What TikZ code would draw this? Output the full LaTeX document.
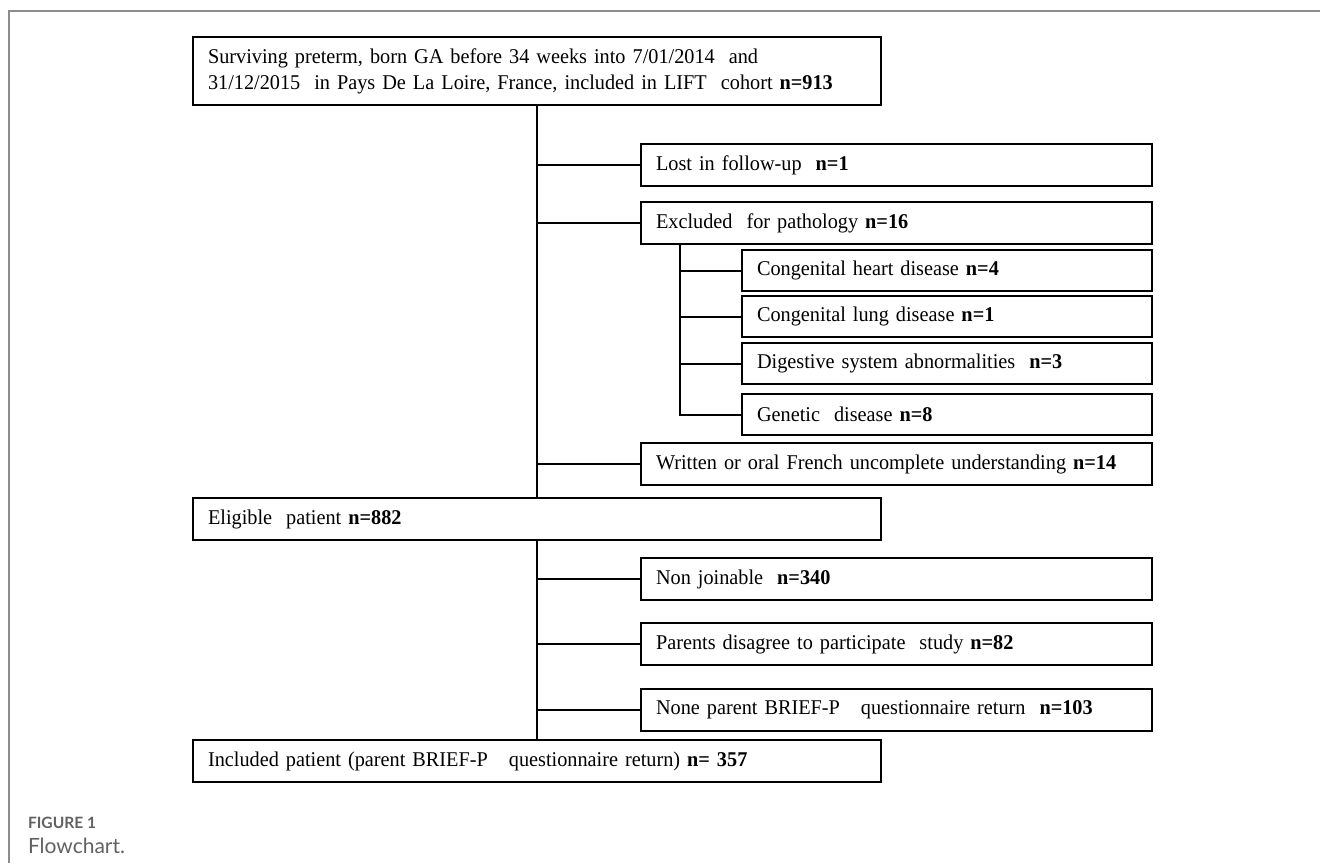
\documentclass[tikz,border=0pt]{standalone}
\usepackage{fontspec}
\setmainfont{Liberation Serif}[FakeStretch=0.965]
\newfontfamily\capfont{Lato}
\usetikzlibrary{positioning}
\definecolor{framegray}{rgb}{0.55,0.55,0.55}
\definecolor{capgray}{rgb}{0.38,0.38,0.38}

\begin{document}
\begin{tikzpicture}[x=0.5pt, y=-0.5pt, line width=1pt,
    box/.style={draw, anchor=north west, inner xsep=7.5pt, inner ysep=0pt,
                minimum height=21pt, align=left,
                font=\fontsize{10.5}{13}\selectfont},
    wide/.style={box, text width=329pt},
    side/.style={box, text width=240.5pt},
    subbox/.style={box, text width=190pt, minimum height=20.5pt},
    link/.style={draw, line width=1pt}]

% --- page size and figure frame -----------------------------------
\useasboundingbox (0,0) rectangle (1320,863);
\draw[framegray, line width=0.6pt] (9,863) -- (9,11) -- (1320,11);

% === main column ==================================================
\node[wide, minimum height=34pt] (cohort) at (192,36)
  {Surviving preterm, born GA before 34 weeks into 7/01/2014\ \ and\\
   31/12/2015\ \ in Pays De La Loire, France, included in LIFT\ \ cohort \textbf{n=913}};
\node[wide] (elig) at (192,497) {Eligible\ \ patient \textbf{n=882}};
\node[wide] (incl) at (192,739)
  {Included patient (parent BRIEF-P\ \ \ questionnaire return) \textbf{n= 357}};

% === exclusions before eligibility ================================
\node[side] (lost)    at (640,143) {Lost in follow-up\ \ \textbf{n=1}};
\node[side] (excl)    at (640,201) {Excluded\ \ for pathology \textbf{n=16}};
\node[subbox] (heart) at (741,249) {Congenital heart disease \textbf{n=4}};
\node[subbox] (lung)  at (741,295) {Congenital lung disease \textbf{n=1}};
\node[subbox] (dig)   at (741,342) {Digestive system abnormalities\ \ \textbf{n=3}};
\node[subbox] (gen)   at (741,393) {Genetic\ \ disease \textbf{n=8}};
\node[side] (french)  at (640,442) {Written or oral French uncomplete understanding \textbf{n=14}};

% === exclusions after eligibility =================================
\node[side] (nonj)  at (640,557) {Non joinable\ \ \textbf{n=340}};
\node[side] (disag) at (640,622) {Parents disagree to participate\ \ study \textbf{n=82}};
\node[side] (noret) at (640,688) {None parent BRIEF-P\ \ \ questionnaire return\ \ \textbf{n=103}};

% --- trunks --------------------------------------------------------
\draw[link] (cohort.south) -- (elig.north);
\draw[link] (elig.south) -- (incl.north);
\coordinate (sub) at ([xshift=20pt]excl.south west);
\draw[link] (sub) |- (gen.west);

% --- branches ------------------------------------------------------
\foreach \b in {lost, excl, french}
  \draw[link] (cohort.south |- \b.west) -- (\b.west);
\foreach \b in {heart, lung, dig}
  \draw[link] (sub |- \b.west) -- (\b.west);
\foreach \b in {nonj, disag, noret}
  \draw[link] (elig.south |- \b.west) -- (\b.west);

% --- caption -------------------------------------------------------
\node[anchor=base west, inner sep=0pt, text=capgray,
      font=\capfont\bfseries\fontsize{7.8}{9}\selectfont] (fig) at (27,828) {FIGURE 1};
\node[anchor=base west, inner sep=0pt, text=capgray,
      font=\capfont\fontsize{10.5}{12}\selectfont] (capt) at (27,853) {Flowchart.};

\end{tikzpicture}
\end{document}
